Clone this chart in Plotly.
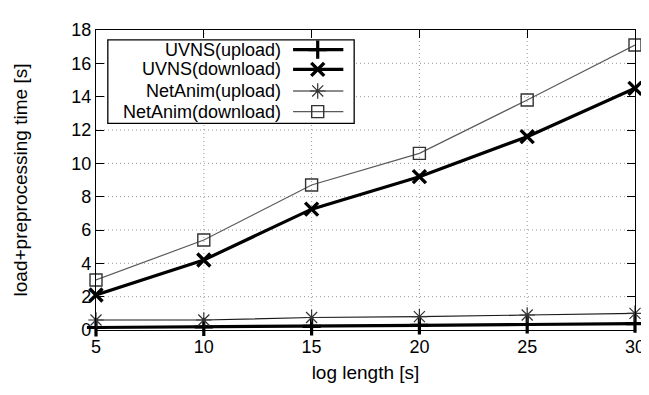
import plotly.graph_objects as go

log_length = [5, 10, 15, 20, 25, 30]
uvns_upload = [0.15, 0.18, 0.22, 0.28, 0.33, 0.38]
uvns_download = [2.1, 4.2, 7.25, 9.2, 11.6, 14.5]
netanim_upload = [0.6, 0.6, 0.75, 0.8, 0.9, 1.0]
netanim_download = [3.0, 5.4, 8.7, 10.6, 13.8, 17.1]
series_names = ["UVNS(upload)", "UVNS(download)", "NetAnim(upload)", "NetAnim(download)"]
x_ticks = [5, 10, 15, 20, 25, 30]
y_ticks = [0, 2, 4, 6, 8, 10, 12, 14, 16, 18]

FONT = "Liberation Sans, Arial, sans-serif"
X_RANGE = [5, 30]
Y_RANGE = [0, 18]
W, H = 547, 305  # plot area size in px


def fx(px):  # legend helper: pixel offset from plot left -> x value
    return X_RANGE[0] + px * (X_RANGE[1] - X_RANGE[0]) / W


def fy(py):  # legend helper: pixel offset from plot top -> y value
    return Y_RANGE[1] - py * (Y_RANGE[1] - Y_RANGE[0]) / H


styles = [
    dict(line=dict(color="black", width=3.2),
         marker=dict(symbol="cross-thin", size=13, line=dict(color="black", width=3.2), color="black")),
    dict(line=dict(color="black", width=3.2),
         marker=dict(symbol="x-thin", size=13, line=dict(color="black", width=3.4), color="black")),
    dict(line=dict(color="#1a1a1a", width=1.2),
         marker=dict(symbol="asterisk-open", size=13, line=dict(color="#333333", width=1.2), color="#333333")),
    dict(line=dict(color="#5a5a5a", width=1.2),
         marker=dict(symbol="square-open", size=12, line=dict(color="#333333", width=1.4), color="#333333")),
]
data = [uvns_upload, uvns_download, netanim_upload, netanim_download]

fig = go.Figure()
for name, ys, st in zip(series_names, data, styles):
    fig.add_trace(go.Scatter(x=log_length, y=ys, mode="lines+markers", name=name,
                             line=st["line"], marker=st["marker"], showlegend=False, cliponaxis=False))

# dotted grid drawn as shapes so the legend box can cover it
grid_line = dict(color="#9a9a9a", width=1, dash="1px,3px")
for xv in x_ticks[1:-1]:
    fig.add_shape(type="line", xref="x", yref="y domain", x0=xv, x1=xv, y0=0, y1=1,
                  line=grid_line, layer="below")
for yv in y_ticks[1:-1]:
    fig.add_shape(type="line", xref="x domain", yref="y", x0=0, x1=1, y0=yv, y1=yv,
                  line=grid_line, layer="below")

# custom gnuplot-style legend: text on the left, sample on the right
fig.add_shape(type="rect", xref="x domain", yref="y domain",
              x0=12 / W, x1=262 / W, y0=1 - 95 / H, y1=1 - 10 / H,
              line=dict(color="black", width=1.3), fillcolor="white", layer="below")
rows = [20, 40, 62, 83]
for name, row, st in zip(series_names, rows, styles):
    fig.add_annotation(x=fx(190), y=fy(row), text=name, showarrow=False,
                       xanchor="right", yanchor="middle", align="right",
                       font=dict(family=FONT, size=18, color="black"))
    fig.add_trace(go.Scatter(x=[fx(200), fx(251)], y=[fy(row), fy(row)], mode="lines",
                             line=st["line"], showlegend=False, hoverinfo="skip"))
    fig.add_trace(go.Scatter(x=[fx(225)], y=[fy(row)], mode="markers",
                             marker=st["marker"], showlegend=False, hoverinfo="skip"))

axis_common = dict(showline=True, linecolor="black", linewidth=1.3, mirror="allticks",
                   ticks="inside", ticklen=8, tickcolor="black", tickwidth=1,
                   showgrid=False, zeroline=False,
                   tickfont=dict(family=FONT, size=18, color="black"))

fig.update_layout(
    width=649, height=395,
    margin=dict(l=87, r=15, t=17, b=73),
    plot_bgcolor="white", paper_bgcolor="white",
    xaxis=dict(range=X_RANGE, tickvals=x_ticks, **axis_common,
               title=dict(text="log length [s]", font=dict(family=FONT, size=19, color="black"), standoff=9)),
    yaxis=dict(range=Y_RANGE, tickvals=y_ticks, **axis_common,
               title=dict(text="load+preprocessing time [s]", font=dict(family=FONT, size=19, color="black"), standoff=38)),
)
fig.write_html("out.html")
